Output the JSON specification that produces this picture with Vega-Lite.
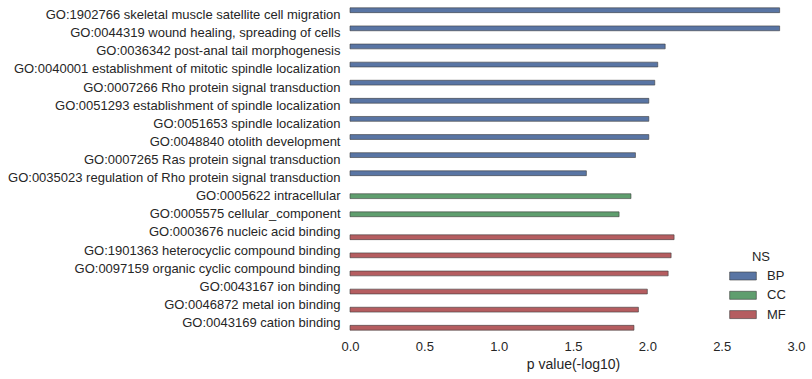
{
  "$schema": "https://vega.github.io/schema/vega-lite/v6.json",
  "autosize": {"type": "none"},
  "padding": {"left": 350, "top": 6, "right": 16, "bottom": 47},
  "width": 446,
  "height": 326,
  "background": "white",
  "config": {
    "view": {"stroke": null},
    "font": "Liberation Sans",
    "axis": {"labelFont": "Liberation Sans", "titleFont": "Liberation Sans", "labelColor": "#262626", "titleColor": "#262626", "domain": false, "ticks": false, "grid": false},
    "legend": {"labelFont": "Liberation Sans", "titleFont": "Liberation Sans"}
  },
  "data": {
    "values": [
      {"term": "GO:1902766 skeletal muscle satellite cell migration", "NS": "BP", "p": 2.89},
      {"term": "GO:0044319 wound healing, spreading of cells", "NS": "BP", "p": 2.89},
      {"term": "GO:0036342 post-anal tail morphogenesis", "NS": "BP", "p": 2.12},
      {"term": "GO:0040001 establishment of mitotic spindle localization", "NS": "BP", "p": 2.07},
      {"term": "GO:0007266 Rho protein signal transduction", "NS": "BP", "p": 2.05},
      {"term": "GO:0051293 establishment of spindle localization", "NS": "BP", "p": 2.01},
      {"term": "GO:0051653 spindle localization", "NS": "BP", "p": 2.01},
      {"term": "GO:0048840 otolith development", "NS": "BP", "p": 2.01},
      {"term": "GO:0007265 Ras protein signal transduction", "NS": "BP", "p": 1.92},
      {"term": "GO:0035023 regulation of Rho protein signal transduction", "NS": "BP", "p": 1.59},
      {"term": "GO:0005622 intracellular", "NS": "CC", "p": 1.89},
      {"term": "GO:0005575 cellular_component", "NS": "CC", "p": 1.81},
      {"term": "GO:0003676 nucleic acid binding", "NS": "MF", "p": 2.18},
      {"term": "GO:1901363 heterocyclic compound binding", "NS": "MF", "p": 2.16},
      {"term": "GO:0097159 organic cyclic compound binding", "NS": "MF", "p": 2.14},
      {"term": "GO:0043167 ion binding", "NS": "MF", "p": 2.0},
      {"term": "GO:0046872 metal ion binding", "NS": "MF", "p": 1.94},
      {"term": "GO:0043169 cation binding", "NS": "MF", "p": 1.91}
    ]
  },
  "mark": {"type": "bar", "stroke": "#3c3c3c", "strokeWidth": 0.6},
  "encoding": {
    "y": {
      "field": "term", "type": "nominal", "sort": null,
      "scale": {"paddingInner": 0, "paddingOuter": 0},
      "axis": {"title": null, "labelFontSize": 13, "labelPadding": 10, "labelLimit": 400}
    },
    "yOffset": {
      "field": "NS", "type": "nominal",
      "scale": {"domain": ["BP", "CC", "MF"], "paddingInner": 0, "paddingOuter": 0.375}
    },
    "x": {
      "field": "p", "type": "quantitative",
      "scale": {"domain": [0, 3], "nice": false},
      "axis": {"title": "p value(-log10)", "values": [0, 0.5, 1, 1.5, 2, 2.5, 3], "format": ".1f", "labelFontSize": 13, "labelPadding": 8, "titleFontSize": 14, "titleFontWeight": "normal", "titlePadding": 4, "labelFlush": false}
    },
    "color": {
      "field": "NS", "type": "nominal",
      "scale": {"domain": ["BP", "CC", "MF"], "range": ["#5975a4", "#5f9e6e", "#b55d60"]},
      "legend": {
        "orient": "none", "legendX": 386, "legendY": 245,
        "title": "NS", "titleFontSize": 13, "titleFontWeight": "normal", "titleColor": "#262626", "titleAnchor": "middle", "titlePadding": 5,
        "labelFontSize": 13, "labelColor": "#262626", "labelOffset": 17,
        "symbolType": "M-2,-0.6H2V0.6H-2Z", "symbolSize": 178, "symbolStrokeColor": "#3c3c3c", "symbolStrokeWidth": 0.6, "symbolOpacity": 1,
        "rowPadding": 5.3
      }
    }
  }
}
